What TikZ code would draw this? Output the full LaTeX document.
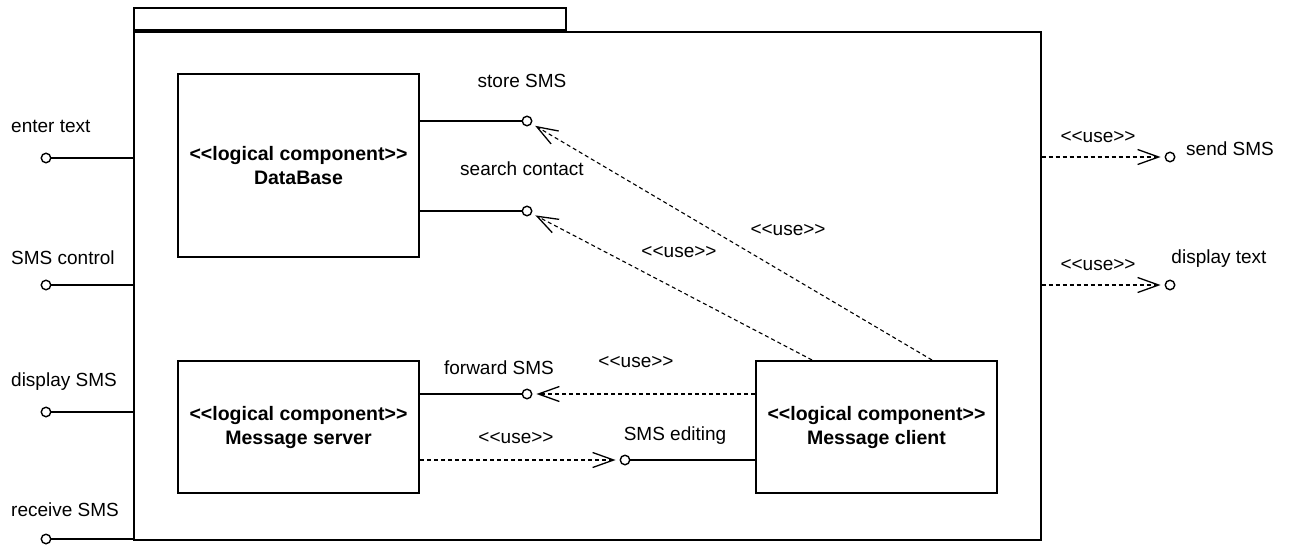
\documentclass[tikz,border=0pt]{standalone}
\usepackage{fontspec}
\setmainfont{Liberation Sans}
\usetikzlibrary{arrows.meta}
% stereotype brackets, kept apart so they are not turned into guillemets
\newcommand{\usestereo}{<\kern0pt<use>\kern0pt>}
\begin{document}
\begin{tikzpicture}[x=1pt, y=-1pt,
  pkgbox/.style={draw, line width=1.6pt, inner sep=0pt},
  comp/.style={draw, line width=2pt, minimum width=241pt, align=center,
    font=\bfseries\fontsize{19.5}{24}\selectfont},
  port/.style={circle, draw, fill=white, line width=1.4pt, minimum size=9.5pt, inner sep=0pt},
  lbl/.style={inner sep=0pt, font=\fontsize{19}{22}\selectfont},
  wire/.style={line width=1.3pt},
  usedep/.style={line width=1.1pt, dash pattern=on 4pt off 3pt,
    -{Straight Barb[length=21pt,width=15pt,line width=1.3pt]}, shorten >=4pt}
]
\fill[white] (0,0) rectangle (1290,544);
\useasboundingbox (0,0) rectangle (1290,544);

% package frame with its tab
\node[pkgbox, minimum width=907pt, minimum height=508pt, anchor=north west] (pkg) at (133,31) {};
\node[pkgbox, minimum width=432pt, minimum height=22pt, anchor=south west] (tab) at (pkg.north west) {};

% components
\node[comp, minimum height=183pt] (db) at (298.5,165.5) {<\kern0pt<logical component>\kern0pt>\\DataBase};
\node[comp, minimum height=132pt] (server) at (298.5,427) {<\kern0pt<logical component>\kern0pt>\\Message server};
\node[comp, minimum height=132pt] (client) at (876.5,427) {<\kern0pt<logical component>\kern0pt>\\Message client};

% interface ports
\node[port] (enter) at (46,158) {};
\node[port] (smsctl) at (46,285) {};
\node[port] (dispsms) at (46,412) {};
\node[port] (recv) at (46,539) {};
\node[port] (store) at (527,121) {};
\node[port] (search) at (527,211) {};
\node[port] (fwd) at (527,394) {};
\node[port] (edit) at (625,460) {};
\node[port] (send) at (1170,157) {};
\node[port] (disptext) at (1170,285) {};

% provided interfaces on the package boundary
\draw[wire] (enter) -- (enter -| pkg.west);
\draw[wire] (smsctl) -- (smsctl -| pkg.west);
\draw[wire] (dispsms) -- (dispsms -| pkg.west);
\draw[wire] (recv) -- (recv -| pkg.west);

% provided interfaces of the components
\draw[wire] (store -| db.east) -- (store);
\draw[wire] (search -| db.east) -- (search);
\draw[wire] (fwd -| server.east) -- (fwd);
\draw[wire] (edit -| client.west) -- (edit);

% usage dependencies
\draw[usedep] ([xshift=177pt]client.north west) -- (store);
\draw[usedep] ([xshift=57pt]client.north west) -- (search);
\draw[usedep] (fwd -| client.west) -- (fwd);
\draw[usedep] (edit -| server.east) -- (edit);
\draw[usedep] (send -| pkg.east) -- (send);
\draw[usedep] (disptext -| pkg.east) -- (disptext);

% port names
\node[lbl, anchor=base west] (tEnter) at (11,132) {enter text};
\node[lbl, anchor=base west] (tSmsctl) at (11,264) {SMS control};
\node[lbl, anchor=base west] (tDispsms) at (11,386) {display SMS};
\node[lbl, anchor=base west] (tRecv) at (11,516) {receive SMS};
\node[lbl, anchor=base] (tStore) at (522,87) {store SMS};
\node[lbl, anchor=base] (tSearch) at (522,175) {search contact};
\node[lbl, anchor=base] (tFwd) at (499,374) {forward SMS};
\node[lbl, anchor=base] (tEdit) at (675,440) {SMS editing};
\node[lbl, anchor=base west] (tSend) at (1186,155) {send SMS};
\node[lbl, anchor=base] (tDisptext) at (1219,263) {display text};

% dependency stereotypes
\node[lbl, anchor=base] (u1) at (1098,142) {\usestereo};
\node[lbl, anchor=base] (u2) at (1098,270) {\usestereo};
\node[lbl, anchor=base] (u3) at (788,235) {\usestereo};
\node[lbl, anchor=base] (u4) at (679,257) {\usestereo};
\node[lbl, anchor=base] (u5) at (636,367) {\usestereo};
\node[lbl, anchor=base] (u6) at (516,443) {\usestereo};
\end{tikzpicture}
\end{document}
